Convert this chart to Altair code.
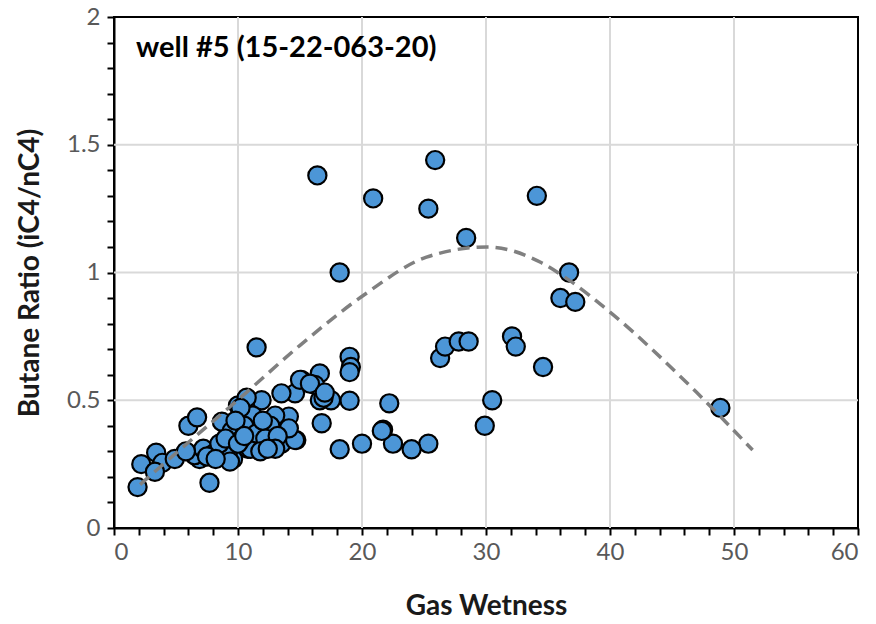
import altair as alt
import pandas as pd

# Scatter data (Gas Wetness, Butane Ratio)
gas_wetness = [
    16.4, 25.9, 20.9, 25.35, 34.1, 28.4, 18.2, 36.7, 36.0, 37.2,
    48.9, 32.1, 32.4, 34.6, 26.3, 26.7, 27.8, 28.6, 30.5, 29.9,
    25.35, 24.0, 22.5, 22.2, 21.7, 21.6, 20.0, 18.2, 19.0, 19.0,
    19.1, 19.0, 16.75, 11.5, 17.5, 16.6, 16.6, 16.2, 15.1, 14.6,
    13.5, 11.9, 14.7, 16.9,
    1.9, 2.2, 3.4, 3.9, 3.3, 4.9, 6.0, 6.7, 7.7, 6.9,
    6.5, 7.2, 8.7, 9.5, 9.5, 9.6, 10.0, 10.7, 11.1, 10.8,
    11.6, 12.6, 12.7, 12.8, 13.5, 13.9, 14.1, 14.6, 15.0, 14.1,
    13.0, 12.6, 11.9, 11.0, 10.2, 11.2, 10.2, 9.2, 9.35, 8.0,
    8.5, 9.0, 10.5, 11.5, 12.2, 13.2, 9.8, 10.0, 12.0, 11.8,
    7.5, 5.8, 8.2, 13.0, 12.4, 10.5, 15.8, 17.0,
]
butane_ratio = [
    1.38, 1.44, 1.29, 1.25, 1.30, 1.135, 1.0, 1.0, 0.90, 0.885,
    0.47, 0.75, 0.71, 0.63, 0.665, 0.71, 0.73, 0.73, 0.50, 0.40,
    0.33, 0.308, 0.33, 0.488, 0.385, 0.38, 0.33, 0.308, 0.498, 0.67,
    0.63, 0.61, 0.41, 0.707, 0.50, 0.50, 0.605, 0.56, 0.58, 0.527,
    0.527, 0.50, 0.344, 0.51,
    0.16, 0.25, 0.295, 0.255, 0.22, 0.27, 0.40, 0.433, 0.177, 0.27,
    0.285, 0.31, 0.416, 0.38, 0.305, 0.27, 0.48, 0.51, 0.44, 0.31,
    0.325, 0.416, 0.38, 0.325, 0.33, 0.377, 0.436, 0.344, 0.58, 0.39,
    0.44, 0.40, 0.33, 0.31, 0.344, 0.44, 0.47, 0.30, 0.26, 0.29,
    0.33, 0.35, 0.40, 0.37, 0.35, 0.36, 0.42, 0.33, 0.42, 0.30,
    0.28, 0.30, 0.27, 0.31, 0.31, 0.36, 0.565, 0.53,
]

# Trend line
trend_x = [2.1, 6.0, 10.2, 15.0, 20.1, 25.2, 30.1, 34.4, 36.7, 40.0, 47.0, 51.5]
trend_y = [0.17, 0.335, 0.51, 0.715, 0.91, 1.06, 1.10, 1.04, 0.97, 0.845, 0.53, 0.305]

# Axis ticks and gridlines
x_ticks = [0, 2, 4, 6, 8, 10, 12, 14, 16, 18, 20, 22, 24, 26, 28, 30,
           32, 34, 36, 38, 40, 42, 44, 46, 48, 50, 52, 54, 56, 58, 60]
y_ticks = [0, 0.1, 0.2, 0.3, 0.4, 0.5, 0.6, 0.7, 0.8, 0.9, 1.0,
           1.1, 1.2, 1.3, 1.4, 1.5, 1.6, 1.7, 1.8, 1.9, 2.0]
x_grid = [10, 20, 30, 40, 50]
y_grid = [0.5, 1.0, 1.5]

annotation = "well #5 (15-22-063-20)"

pts = pd.DataFrame({"x": gas_wetness, "y": butane_ratio})
trend = pd.DataFrame({"x": trend_x, "y": trend_y})
gx = pd.DataFrame({"x": x_grid})
gy = pd.DataFrame({"y": y_grid})

FONT = "Lato"
xs = alt.Scale(domain=[0, 60], nice=False, zero=False)
ys = alt.Scale(domain=[0, 2], nice=False, zero=False)

x_axis = alt.Axis(
    values=x_ticks,
    labelExpr="datum.value % 10 === 0 ? datum.label : ''",
    grid=False, tickSize=7, tickWidth=2, tickColor="black",
    domainColor="black", domainWidth=2,
    labelFont=FONT, labelFontSize=24, labelColor="#595959", labelPadding=5,
    title="Gas Wetness", titleFont=FONT, titleFontSize=28, titleFontWeight="bold",
    titleColor="#1a1a1a", titlePadding=28,
)
y_axis = alt.Axis(
    values=y_ticks,
    labelExpr="abs(datum.value * 2 - round(datum.value * 2)) < 0.001 ? format(datum.value, '.1~f') : ''",
    grid=False, tickSize=7, tickWidth=2, tickColor="black",
    domainColor="black", domainWidth=2,
    labelFont=FONT, labelFontSize=24, labelColor="#595959", labelPadding=7,
    title="Butane Ratio (iC4/nC4)", titleFont=FONT, titleFontSize=28,
    titleFontWeight="bold", titleColor="#1a1a1a", titlePadding=22,
)

X = alt.X("x:Q", scale=xs, axis=x_axis)
Y = alt.Y("y:Q", scale=ys, axis=y_axis)

grid_x = alt.Chart(gx).mark_rule(color="#D9D9D9", strokeWidth=2).encode(x=X)
grid_y = alt.Chart(gy).mark_rule(color="#D9D9D9", strokeWidth=2).encode(y=Y)

points = alt.Chart(pts).mark_circle(
    size=330, color="#4C96D7", opacity=1, stroke="black", strokeWidth=2.2
).encode(x=X, y=Y)

trend_line = alt.Chart(trend).mark_line(
    color="#808080", strokeWidth=3.5, strokeDash=[12, 7], interpolate="monotone"
).encode(x=X, y=Y)

label = alt.Chart(pd.DataFrame({"t": [annotation]})).mark_text(
    align="left", baseline="middle", font=FONT, fontSize=29, fontWeight="bold",
    color="black"
).encode(x=alt.value(22), y=alt.value(31), text="t:N")

chart = alt.layer(grid_x, grid_y, points, trend_line, label).properties(
    width=744, height=511,
    autosize=alt.AutoSizeParams(type="none"),
    padding={"left": 114, "top": 17, "right": 18, "bottom": 96},
).configure_view(stroke="black", strokeWidth=2)

chart.save("out.html", embed_options={"renderer": "svg", "actions": False})
